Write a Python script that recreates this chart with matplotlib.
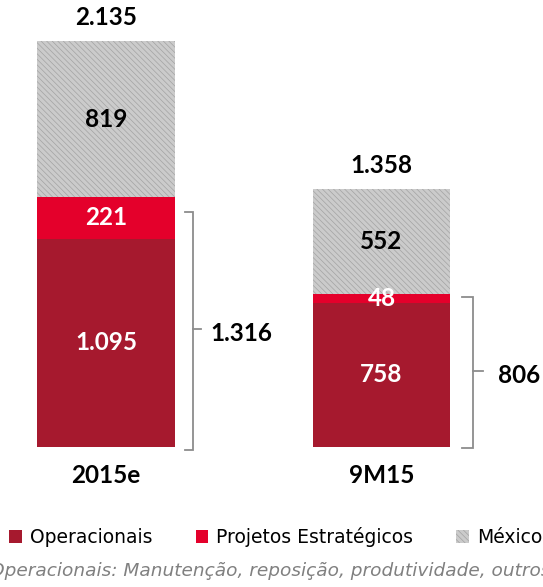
import matplotlib.pyplot as plt
from matplotlib.patches import Patch

categories = ['2015e', '9M15']
operacionais = [1095, 758]
projetos = [221, 48]
mexico = [819, 552]
totais = ['2.135', '1.358']
subtotais = ['1.316', '806']
lbl_oper = ['1.095', '758']
lbl_proj = ['221', '48']
lbl_mex = ['819', '552']

c_oper = '#a6192e'
c_proj = '#e4002b'
c_mex = '#cbcbcb'

plt.rcParams['hatch.linewidth'] = 0.5
bold = dict(family='Lato', weight='bold', fontsize=17.5)
mex_hatch = '\\\\\\\\\\\\'

fig = plt.figure(figsize=(5.43, 5.87), dpi=100)
# base of bars at 447 px from top, 0.19 px per unit
ax = fig.add_axes([0, 140 / 587, 1, 447 / 587])
ax.set_ylim(0, 447 / 0.19)
ax.set_xlim(-106 / 275.5, (543 - 106) / 275.5)
ax.axis('off')

x = [0, 1]
w = 0.5
bottom2 = [a + b for a, b in zip(operacionais, projetos)]
ax.bar(x, operacionais, w, color=c_oper, lw=0)
ax.bar(x, projetos, w, bottom=operacionais, color=c_proj, lw=0)
ax.bar(x, mexico, w, bottom=bottom2, facecolor=c_mex, edgecolor='#a3a3a3',
       hatch=mex_hatch, lw=0)

for i in x:
    ax.text(i, operacionais[i] / 2, lbl_oper[i], color='white', ha='center', va='center', **bold)
    ax.text(i, operacionais[i] + projetos[i] / 2, lbl_proj[i], color='white', ha='center', va='center', **bold)
    ax.text(i, bottom2[i] + mexico[i] / 2, lbl_mex[i], color='black', ha='center', va='center', **bold)
    top = bottom2[i] + mexico[i]
    ax.text(i, top + 125, totais[i], color='black', ha='center', va='center', **bold)
    ax.text(i, -150, categories[i], color='black', ha='center', va='center', **bold)

# braces
px = 1 / 275.5
braces = [
    (0, 193, 185, 201, -15, 1237, 210),
    (1, 473, 462, 483, -5, 790, 498),
]
for i, xv, xl, xm, yb, yt, xt in braces:
    bx = (xv - 106) * px
    bl = (xl - 106) * px
    bm = (xm - 106) * px
    ym = (yb + yt) / 2 + 10
    ax.plot([bl, bx, bx, bl], [yt, yt, yb, yb], color='#8c8c8c', lw=1.3,
            solid_joinstyle='miter', clip_on=False)
    ax.plot([bx, bm], [ym, ym], color='#8c8c8c', lw=1.3, clip_on=False)
    ax.text((xt - 106) * px, ym - 25, subtotais[i], ha='left', va='center', **bold)

handles = [
    Patch(facecolor=c_oper, lw=0),
    Patch(facecolor=c_proj, lw=0),
    Patch(facecolor=c_mex, edgecolor='#a3a3a3', hatch=mex_hatch, lw=0),
]
fig.legend(handles, ['Operacionais', 'Projetos Estratégicos', 'México'],
           loc='center', bbox_to_anchor=(0.508, 1 - 537 / 587), ncol=3,
           frameon=False, prop=dict(family='DejaVu Sans', size=13.5),
           handlelength=0.65, handleheight=0.65, handletextpad=0.45, columnspacing=2.3)

fig.text(-10 / 543, 1 - 571 / 587, 'Operacionais: Manutenção, reposição, produtividade, outros',
         family='DejaVu Sans', style='italic', size=13.3, color='#808080', ha='left', va='center')

fig.savefig('out.png', dpi=100)
